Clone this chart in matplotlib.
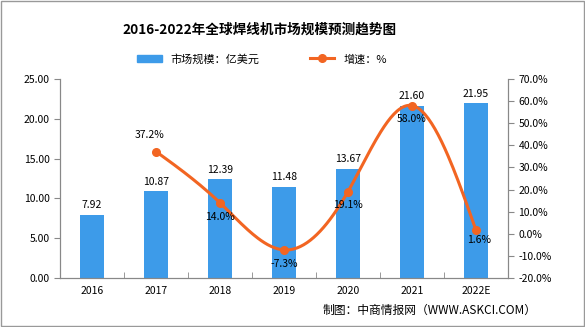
import numpy as np
import matplotlib
matplotlib.use("Agg")
import matplotlib.pyplot as plt
from matplotlib.lines import Line2D
from matplotlib.patches import Patch

plt.rcParams['font.family'] = ['Noto Sans CJK SC', 'DejaVu Sans']

# data
years = ['2016', '2017', '2018', '2019', '2020', '2021', '2022E']
market = [7.92, 10.87, 12.39, 11.48, 13.67, 21.60, 21.95]
growth = [None, 37.2, 14.0, -7.3, 19.1, 58.0, 1.6]

bar_color = '#3d9be9'
line_color = '#f26522'
axis_color = '#888888'


def natural_spline(x, y, n=40):
    # natural cubic spline through the points, only for drawing the curve
    x = np.asarray(x, float)
    y = np.asarray(y, float)
    k = len(x)
    h = np.diff(x)
    A = np.zeros((k, k))
    b = np.zeros(k)
    A[0, 0] = A[-1, -1] = 1
    for i in range(1, k - 1):
        A[i, i - 1] = h[i - 1]
        A[i, i] = 2 * (h[i - 1] + h[i])
        A[i, i + 1] = h[i]
        b[i] = 6 * ((y[i + 1] - y[i]) / h[i] - (y[i] - y[i - 1]) / h[i - 1])
    m = np.linalg.solve(A, b)
    xs, ys = [], []
    for i in range(k - 1):
        t = np.linspace(x[i], x[i + 1], n)
        a = x[i + 1] - t
        c = t - x[i]
        ys.extend(m[i] * a ** 3 / (6 * h[i]) + m[i + 1] * c ** 3 / (6 * h[i])
                  + (y[i] / h[i] - m[i] * h[i] / 6) * a
                  + (y[i + 1] / h[i] - m[i + 1] * h[i] / 6) * c)
        xs.extend(t)
    return np.array(xs), np.array(ys)


fig = plt.figure(figsize=(5.85, 3.27), dpi=100)
ax = fig.add_axes([60 / 585, 1 - 278 / 327, 448 / 585, 199 / 327])
ax2 = ax.twinx()

x = np.arange(len(years))
ax.bar(x, market, width=0.36, color=bar_color, zorder=2)
for xi, v in zip(x, market):
    ax.text(xi, v + 0.6, f'{v:.2f}', ha='center', va='bottom', fontsize=7.5)

ax.set_xlim(-0.5, len(years) - 0.5)
ax.set_ylim(0, 25)
ax.set_yticks(np.arange(0, 25.1, 5))
ax.set_yticklabels([f'{v:.2f}' for v in np.arange(0, 25.1, 5)])
ax.set_xticks(x)
ax.set_xticklabels(years)
ax.set_xticks(np.arange(-0.5, len(years), 1), minor=True)
ax.tick_params(axis='x', which='major', length=0, labelsize=7.5, pad=6)
ax.tick_params(axis='x', which='minor', length=4, color=axis_color, direction='in')
ax.tick_params(axis='y', length=4, color=axis_color, labelsize=7.5)

gx = [xi for xi, g in zip(x, growth) if g is not None]
gy = [g for g in growth if g is not None]
sx, sy = natural_spline(gx, gy)
ax2.plot(sx, sy, color=line_color, lw=2.2, zorder=3)
ax2.plot(gx, gy, 'o', color=line_color, ms=5.5, zorder=4)
for xi, g in zip(gx, gy):
    if xi == 1:
        ax2.text(xi - 0.1, g + 5, f'{g:.1f}%', ha='center', va='bottom', fontsize=7.5)
    elif xi == len(years) - 1:
        ax2.text(xi + 0.05, g - 2, f'{g:.1f}%', ha='center', va='top', fontsize=7.5)
    else:
        ax2.text(xi, g - 4, f'{g:.1f}%', ha='center', va='top', fontsize=7.5)

ax2.set_ylim(-20, 70)
ax2.set_yticks(np.arange(-20, 71, 10))
ax2.set_yticklabels([f'{v:.1f}%' for v in np.arange(-20, 71, 10)])
ax2.tick_params(axis='y', length=4, color=axis_color, labelsize=7.5)

for a in (ax, ax2):
    a.spines['top'].set_visible(False)
    for side in ('left', 'right', 'bottom'):
        a.spines[side].set_color(axis_color)

fig.text(260 / 585, 1 - 30 / 327, '2016-2022年全球焊线机市场规模预测趋势图',
         ha='center', va='center', fontsize=9.8, fontweight='bold')

handles = [Patch(color=bar_color),
           Line2D([0], [0], color=line_color, lw=2.2, marker='o', ms=5.5)]
fig.legend(handles, ['市场规模：亿美元', '增速：%'], loc='center',
           bbox_to_anchor=(262 / 585, 1 - 59 / 327), ncol=2, frameon=False,
           fontsize=8, columnspacing=4.5, handlelength=2.2)

fig.text(430 / 585, 1 - 310 / 327, '制图：中商情报网（WWW.ASKCI.COM）',
         ha='center', va='center', fontsize=8.5)

fig.patches.append(plt.Rectangle((0.002, 0.003), 0.996, 0.994, transform=fig.transFigure,
                                 fill=False, edgecolor='#999999', lw=1))

fig.savefig('out.png', dpi=100)
